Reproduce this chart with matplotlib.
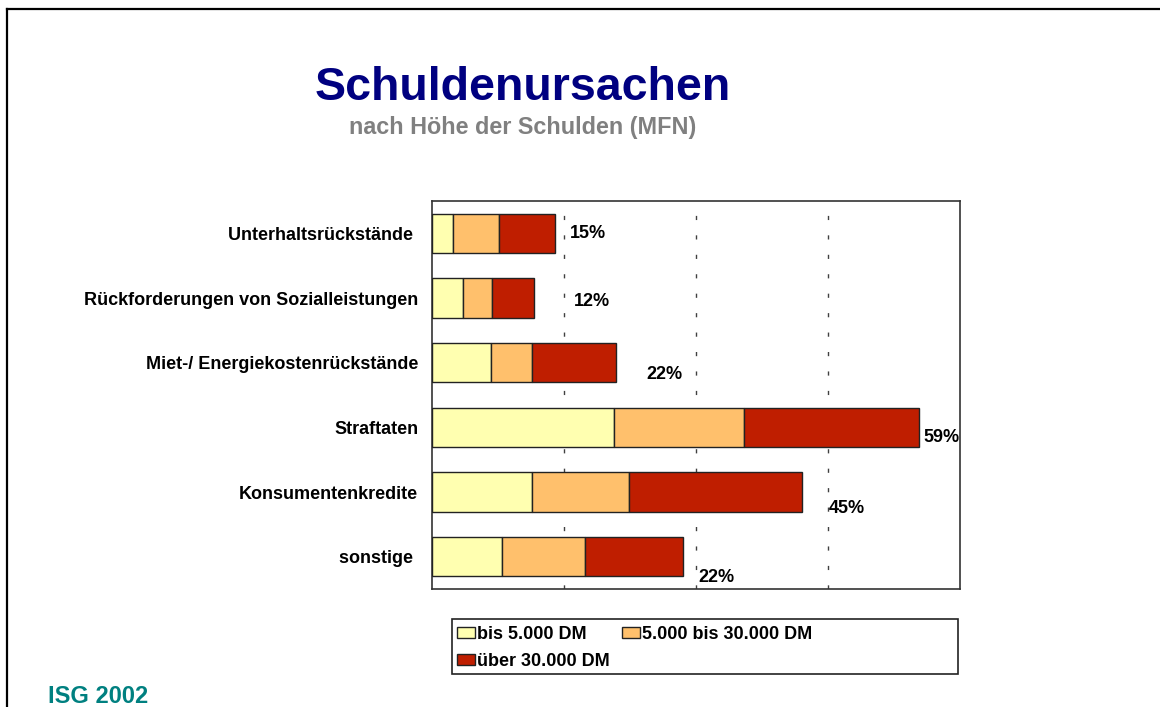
import matplotlib
matplotlib.use("Agg")
import matplotlib.pyplot as plt
from matplotlib.lines import Line2D
from matplotlib.patches import Rectangle, Patch
import numpy as np

plt.rcParams['font.family'] = ['Liberation Sans', 'DejaVu Sans']

# ---- data ----
categories = ["Unterhaltsrückstände ", "Rückforderungen von Sozialleistungen",
              "Miet-/ Energiekostenrückstände", "Straftaten",
              "Konsumentenkredite", "sonstige "]
bis_5000 = [2.5, 3.7, 7.2, 22.1, 12.1, 8.5]
bis_30000 = [5.6, 3.6, 4.9, 15.7, 11.8, 10.0]
ueber_30000 = [6.8, 5.1, 10.2, 21.2, 20.9, 11.9]
total_labels = ["15%", "12%", "22%", "59%", "45%", "22%"]
series_names = ["bis 5.000 DM", "5.000 bis 30.000 DM", "über 30.000 DM"]
grid_ticks = [16, 32, 48]

colors = ["#FFFFB0", "#FFC06C", "#BF1E00"]
edge = "#222222"

# label offsets (pixels right, pixels down) as placed in the original
lab_dx = [15, 40, 30, 5, 27, 16]
lab_dy = [0, 3.5, 11.5, 10.5, 16.5, 20.5]

W, H = 1160, 707
fig = plt.figure(figsize=(W / 100, H / 100), dpi=100)
fig.patch.set_facecolor("white")

ax = fig.add_axes([432 / W, 1 - 589 / H, 528 / W, 388 / H])

y = np.arange(len(categories))
left = np.zeros(len(categories))
handles = []
for vals, col, name in zip([bis_5000, bis_30000, ueber_30000], colors, series_names):
    ax.barh(y, vals, left=left, height=0.61, color=col, edgecolor=edge,
            linewidth=1.0, zorder=3)
    left = left + np.array(vals)
    handles.append(Patch(facecolor=col, edgecolor=edge, linewidth=1.0, label=name))

for i, (tot, lab) in enumerate(zip(left, total_labels)):
    ax.annotate(lab, xy=(tot, y[i]), xytext=(lab_dx[i] * 0.72, -lab_dy[i] * 0.72),
                textcoords="offset points", ha="left", va="center",
                fontsize=13, fontweight="bold", color="black",
                annotation_clip=False, zorder=5)

ax.set_xlim(0, 64)
ax.set_ylim(len(categories) - 0.5, -0.5)
ax.set_xticks(grid_ticks)
ax.set_xticklabels([])
ax.xaxis.grid(True, color="#404040", linewidth=1.0, linestyle=(0, (3, 11)))
ax.set_axisbelow(True)
ax.set_yticks(y)
ax.set_yticklabels(categories, fontsize=13, fontweight="bold")
ax.tick_params(axis="both", length=0)
ax.tick_params(axis="y", pad=10)
for s in ax.spines.values():
    s.set_color("#333333")
    s.set_linewidth(1.2)

# titles
fig.text(523 / W, 1 - 100 / H, "Schuldenursachen", ha="center", va="baseline",
         fontsize=33.5, fontweight="bold", color="#000080")
fig.text(523 / W, 1 - 134 / H, "nach Höhe der Schulden (MFN)", ha="center",
         va="baseline", fontsize=16.8, fontweight="bold", color="#808080")
fig.text(48 / W, 1 - 703 / H, "ISG 2002", ha="left", va="baseline",
         fontsize=17, fontweight="bold", color="#008080")

# legend box and legend
fig.add_artist(Rectangle((452 / W, 1 - 674 / H), (958 - 452) / W, (674 - 619) / H,
                         transform=fig.transFigure, fill=False,
                         edgecolor="#222222", linewidth=1.2))
leg = fig.legend(handles=[handles[0], handles[2], handles[1]],
                 labels=[series_names[0], series_names[2], series_names[1]],
                 ncol=2, loc="upper left",
                 bbox_to_anchor=(457 / W, 1 - 626 / H), frameon=False,
                 borderpad=0, borderaxespad=0, handlelength=1.0,
                 handleheight=0.5, handletextpad=0.1, columnspacing=0.7,
                 labelspacing=0.55, prop={"weight": "bold", "size": 13})

# slide frame
fig.add_artist(Line2D([7 / W, 1], [1 - 9 / H, 1 - 9 / H], transform=fig.transFigure,
                      color="black", linewidth=1.6))
fig.add_artist(Line2D([7 / W, 7 / W], [0, 1 - 9 / H], transform=fig.transFigure,
                      color="black", linewidth=1.6))

fig.savefig("out.png", dpi=100, facecolor="white")
